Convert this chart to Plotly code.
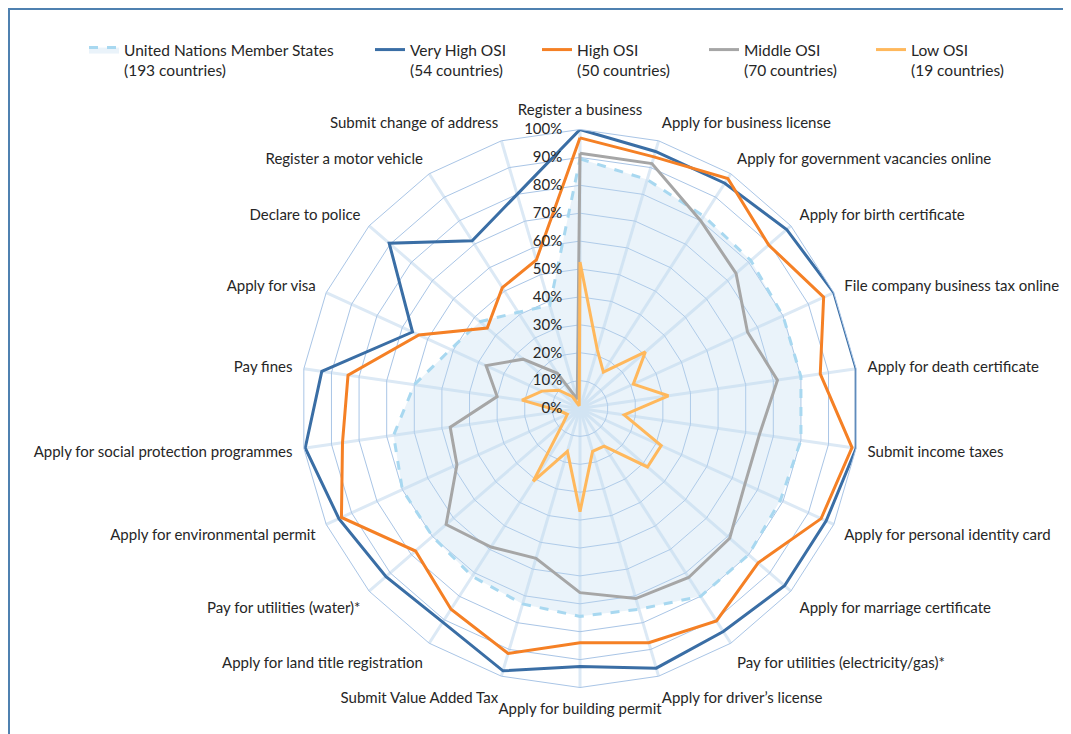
import plotly.graph_objects as go

# categories, clockwise from the top
categories = [
    "Register a business", "Apply for business license",
    "Apply for government vacancies online", "Apply for birth certificate",
    "File company business tax online", "Apply for death certificate",
    "Submit income taxes", "Apply for personal identity card",
    "Apply for marriage certificate", "Pay for utilities (electricity/gas)*",
    "Apply for driver’s license", "Apply for building permit",
    "Submit Value Added Tax", "Apply for land title registration",
    "Pay for utilities (water)*", "Apply for environmental permit",
    "Apply for social protection programmes", "Pay fines",
    "Apply for visa", "Declare to police", "Register a motor vehicle",
    "Submit change of address",
]

# share of countries offering the service (%)
un_states = [89.5, 85.5, 82, 81, 80, 80, 80, 79, 80, 80, 75, 74.5,
             73, 71.5, 70, 70, 67.5, 60, 51, 47.5, 41, 38.5]
very_high = [100, 96, 96, 98, 100, 100, 100, 97, 97, 95, 97, 92.5,
             98, 91, 92, 95, 99.5, 93.5, 66, 90.5, 71.5, 80]
high = [97, 94, 98, 89.5, 96, 87, 98.5, 95, 84.5, 90.5, 87.5, 84,
        91.5, 85.5, 78, 94, 86, 84, 63.5, 44, 51.5, 55.5]
middle = [91.5, 91.5, 80, 74, 66, 71.5, 65, 65, 71, 72, 71, 66,
          56, 59, 63.5, 48.5, 47, 30, 37, 27, 15, 3.5]
low = [52.5, 22, 15.5, 31, 21, 32, 16, 32, 32, 16, 16, 37,
       16, 31, 8, 5, 7, 21, 15, 10, 5, 1]

series_names = [
    "United Nations Member States<br>(193 countries)",
    "Very High OSI<br>(54 countries)",
    "High OSI<br>(50 countries)",
    "Middle OSI<br>(70 countries)",
    "Low OSI<br>(19 countries)",
]

FONT = "Lato"
TXT = "#262626"
# the page body has an 8px margin, so the figure is drawn 8px smaller
OFF = 8
W, H = 1071 - OFF, 734 - OFF


def px(x):
    return (x - OFF) / W


def py(y):
    return 1 - (y - OFF) / H


def closed(vals):
    return [v / 100 for v in vals] + [vals[0] / 100]


theta = categories + [categories[0]]

fig = go.Figure()
fig.add_trace(go.Scatterpolar(
    r=closed(un_states), theta=theta, name=series_names[0],
    mode="lines", fill="toself", fillcolor="rgba(190,218,240,0.32)",
    line=dict(color="#a8d8f0", width=3, dash="dash"),
    legend="legend",
))
colors = ["#3a6ea5", "#f58025", "#a6a6a6", "#ffb85c"]
for name, vals, col in zip(series_names[1:], [very_high, high, middle, low], colors):
    fig.add_trace(go.Scatterpolar(
        r=closed(vals), theta=theta, name=name, mode="lines",
        line=dict(color=col, width=3), legend="legend2",
    ))

fig.update_layout(
    width=W, height=H,
    margin=dict(l=0, r=0, t=0, b=0),
    paper_bgcolor="white",
    showlegend=True,
    font=dict(family=FONT, size=15, color=TXT),
    polar=dict(
        domain=dict(x=[px(301), px(859)], y=[py(687.5), py(129.5)]),
        bgcolor="rgba(0,0,0,0)",
        gridshape="linear",
        radialaxis=dict(
            range=[0, 1], dtick=0.1, tickformat=".0%", angle=90, tickangle=90,
            side="counterclockwise", showline=False,
            ticks="outside", ticklen=12, tickcolor="rgba(0,0,0,0)",
            gridcolor="#a9c5e6", gridwidth=1,
            tickfont=dict(family=FONT, size=15, color=TXT),
        ),
        angularaxis=dict(
            rotation=90, direction="clockwise", showline=True,
            linecolor="#a9c5e6", linewidth=1,
            ticks="outside", ticklen=8, tickcolor="rgba(0,0,0,0)",
            gridcolor="#dce9f5", gridwidth=3,
            tickfont=dict(family=FONT, size=15, color=TXT),
        ),
    ),
    legend=dict(
        orientation="h", x=px(84), y=py(33), xanchor="left", yanchor="top",
        valign="top", font=dict(family=FONT, size=15.5, color=TXT),
        bgcolor="rgba(0,0,0,0)",
    ),
    legend2=dict(
        orientation="h", x=px(370), y=py(33), xanchor="left", yanchor="top",
        valign="top", entrywidth=122, entrywidthmode="pixels",
        font=dict(family=FONT, size=15.5, color=TXT),
        bgcolor="rgba(0,0,0,0)",
    ),
    shapes=[dict(
        type="rect", xref="paper", yref="paper",
        x0=px(9), y0=-0.1, x1=1.1, y1=py(9),
        line=dict(color="#4f81b0", width=2), layer="below",
    )],
)

fig.write_html("out.html")
